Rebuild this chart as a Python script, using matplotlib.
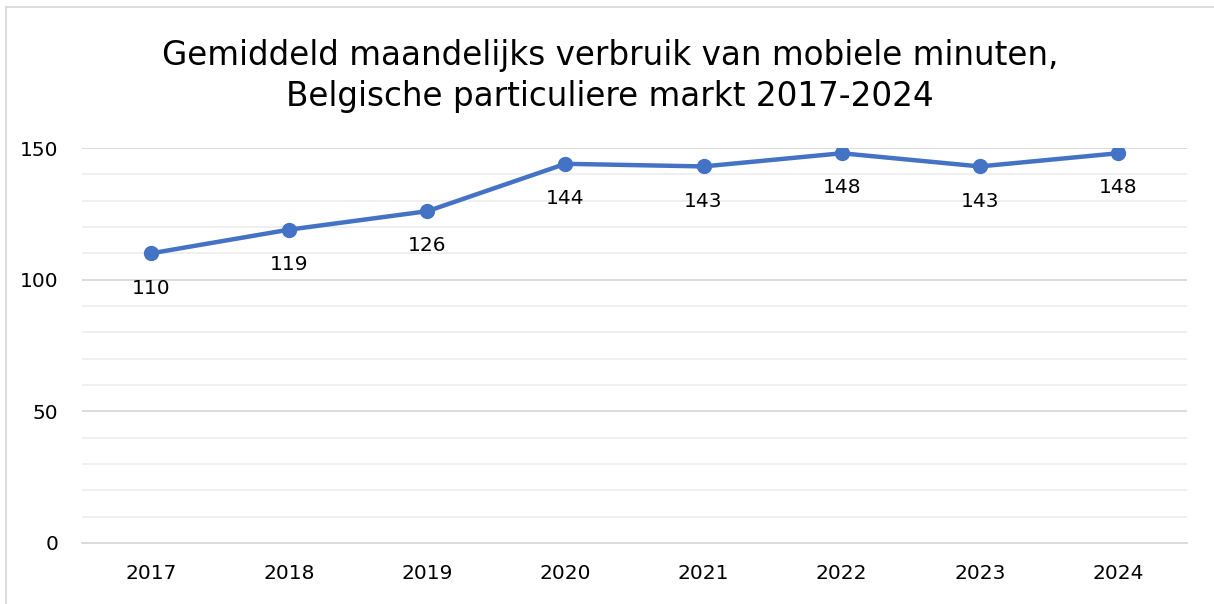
import matplotlib
matplotlib.use("Agg")
import matplotlib.pyplot as plt
from matplotlib.patches import Rectangle

years = ["2017", "2018", "2019", "2020", "2021", "2022", "2023", "2024"]
minutes = [110, 119, 126, 144, 143, 148, 143, 148]
yticks = [0, 50, 100, 150]
title = "Gemiddeld maandelijks verbruik van mobiele minuten,\nBelgische particuliere markt 2017-2024"

plt.rcParams['font.family'] = ['DejaVu Sans']

W, H = 1214, 604
fig = plt.figure(figsize=(W / 100, H / 100), dpi=100)
ax = fig.add_axes([82 / W, 1 - 543 / H, (1187 - 82) / W, (543 - 148) / H])

x = list(range(len(years)))
ax.plot(x, minutes, color="#4472C4", lw=3.2, marker="o", ms=10, zorder=3,
        solid_capstyle="round")
for xi, v in zip(x, minutes):
    ax.annotate(str(v), (xi, v), xytext=(0, -25), textcoords="offset points",
                ha="center", va="center", fontsize=14.5, color="#000000", zorder=4)

ax.set_xlim(-0.5, len(years) - 0.5)
ax.set_ylim(0, 150)
ax.set_xticks(x)
ax.set_xticklabels(years, fontsize=14.5)
ax.set_yticks(yticks)
ax.set_yticklabels([str(t) for t in yticks], fontsize=14.5)
ax.set_yticks(range(0, 151, 10), minor=True)
ax.tick_params(axis="both", length=0, which="both")
ax.tick_params(axis="y", pad=17)
ax.tick_params(axis="x", pad=15)

ax.grid(axis="y", which="major", color="#d9d9d9", lw=1.3, zorder=0)
ax.grid(axis="y", which="minor", color="#eeeeee", lw=1.3, zorder=0)
ax.set_axisbelow(True)
for s in ["top", "right", "left"]:
    ax.spines[s].set_visible(False)
ax.spines["bottom"].set_color("#d9d9d9")
ax.spines["bottom"].set_linewidth(1.3)

fig.text(610 / W, 1 - 76 / H, title, ha="center", va="center", fontsize=23.5,
         linespacing=1.3, color="#000000")

fig.patches.append(Rectangle((6 / W, -0.1), 1.2, 1 - 7 / H + 0.1,
                             transform=fig.transFigure, fill=False,
                             edgecolor="#d9d9d9", lw=1.3))

fig.savefig("out.png", dpi=100)
